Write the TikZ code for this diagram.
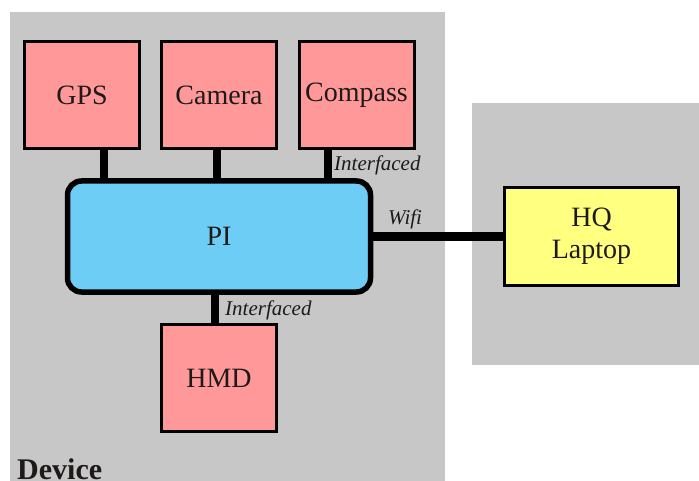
\documentclass[tikz,border=0pt]{standalone}
\usepackage{fontspec}
\setmainfont{Liberation Serif}
\pgfdeclarelayer{zone}
\pgfdeclarelayer{links}
\pgfsetlayers{zone,links,main}
\definecolor{zonegray}{RGB}{199,199,199}
\definecolor{partpink}{RGB}{255,153,153}
\definecolor{piblue}{RGB}{110,205,245}
\definecolor{hqyellow}{RGB}{255,255,128}
\definecolor{ink}{RGB}{30,26,26}
\tikzset{
  part/.style={draw=black, line width=3pt, fill=partpink, text=ink,
    minimum width=115pt, minimum height=107pt, inner sep=0pt,
    font=\fontsize{28}{32}\selectfont},
  hub/.style={draw=black, line width=5.5pt, fill=piblue, text=ink,
    rounded corners=14pt, minimum width=303pt, minimum height=111pt,
    inner sep=0pt, font=\fontsize{28}{32}\selectfont},
  remote/.style={draw=black, line width=3pt, fill=hqyellow, text=ink,
    minimum width=174pt, minimum height=98pt, inner sep=0pt, align=center,
    font=\fontsize{28}{32}\selectfont},
  link/.style={draw=black, line width=8.5pt},
  tag/.style={inner sep=0pt, anchor=base west, text=ink,
    font=\fontsize{21}{24}\selectfont\itshape},
  zone/.style={fill=zonegray, draw=none}
}
\begin{document}
\begin{tikzpicture}[x=1pt, y=-1pt]
\useasboundingbox (0,0) rectangle (699,481);

% grey areas
\begin{pgfonlayer}{zone}
  \fill[zone] (10,12) rectangle (445,481);
  \fill[zone] (472,103) rectangle (699,365);
\end{pgfonlayer}

% components
\node[part] (gps) at (82,95) {GPS};
\node[part] (cam) at (219,95) {Camera};
\node[part] (cmp) at (356.5,95) {Compass};
\node[hub] (pi) at (219,236.5) {PI};
\node[part] (hmd) at (219,378) {HMD};
\node[remote] (hq) at (591.5,236.5) {HQ\\Laptop};

% x positions of the vertical links
\coordinate (xg) at (104,0);
\coordinate (xc) at (217,0);
\coordinate (xm) at (328,0);
\coordinate (xh) at (215,0);

\begin{pgfonlayer}{links}
  \draw[link] (gps.south -| xg) -- (pi.north -| xg);
  \draw[link] (cam.south -| xc) -- (pi.north -| xc);
  \draw[link] (cmp.south -| xm) -- (pi.north -| xm);
  \draw[link] (pi.south -| xh) -- (hmd.north -| xh);
  \draw[link] (pi.east |- hq.west) -- (hq.west);
\end{pgfonlayer}

% link labels
\node[tag] (t1) at (334,171) {Interfaced};
\node[tag] (t2) at (388,225) {Wifi};
\node[tag] (t3) at (225,315) {Interfaced};

% area label
\node[inner sep=0pt, anchor=base west, text=ink,
  font=\fontsize{30}{34}\selectfont\bfseries] (dev) at (17,479.5) {Device};
\end{tikzpicture}
\end{document}
